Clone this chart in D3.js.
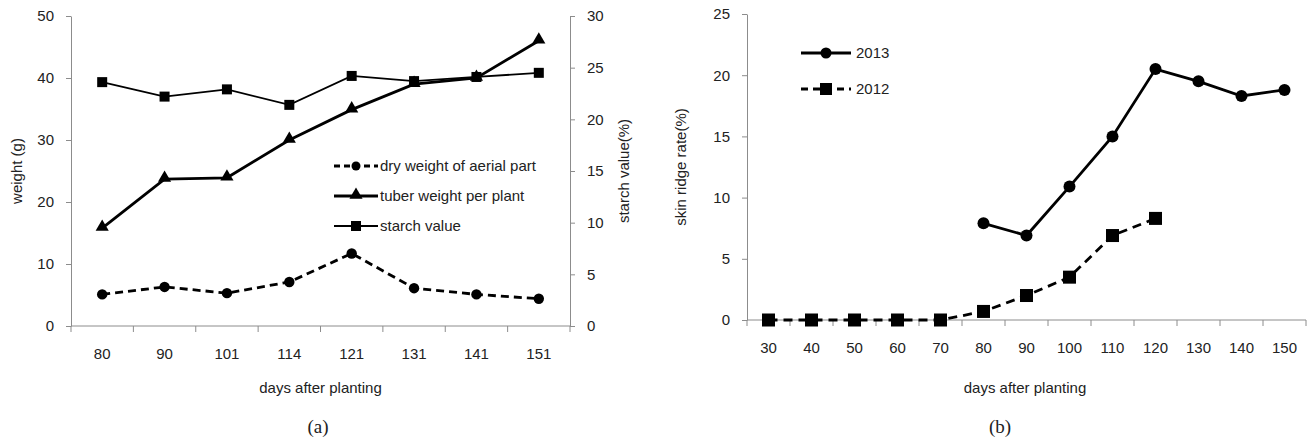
<!DOCTYPE html>
<html>
<head>
<meta charset="utf-8">
<script src="https://cdn.jsdelivr.net/npm/d3@7"></script>
<style>
  body { margin: 0; background: #fff; }
  text { font-family: "Liberation Sans", Arial, sans-serif; fill: #222; }
  .cap { font-family: "Liberation Serif", "Times New Roman", serif; }
</style>
</head>
<body>
<div id="chart"></div>
<script>
// ---- data: panel (a)
const daysA = ["80", "90", "101", "114", "121", "131", "141", "151"];
const dryWeight = [5.1, 6.3, 5.3, 7.1, 11.7, 6.1, 5.1, 4.4];
const tuberWeight = [15.8, 23.7, 23.9, 30.0, 34.9, 39.0, 40.0, 46.0];
const starchValue = [23.6, 22.2, 22.9, 21.4, 24.2, 23.7, 24.1, 24.5];
const weightTicks = [0, 10, 20, 30, 40, 50];
const starchTicks = [0, 5, 10, 15, 20, 25, 30];

// ---- data: panel (b)
const daysB = ["30", "40", "50", "60", "70", "80", "90", "100", "110", "120", "130", "140", "150"];
const rate2013 = [null, null, null, null, null, 7.9, 6.9, 10.9, 15.0, 20.5, 19.5, 18.3, 18.8];
const rate2012 = [0, 0, 0, 0, 0, 0.7, 2.0, 3.5, 6.9, 8.3, null, null, null];
const rateTicks = [0, 5, 10, 15, 20, 25];

const W = 1313, H = 441;
const axisColor = "#8c8c8c";
const fs = "15px";

const svg = d3.select("#chart").append("svg")
  .attr("width", W).attr("height", H);

// draws category axis with ticks on band edges (excel style)
function catAxis(g, x, y0, cats) {
  const [a, b] = x.range();
  g.append("line").attr("x1", a).attr("x2", b).attr("y1", y0).attr("y2", y0)
    .attr("stroke", axisColor).attr("stroke-width", 1);
  const edges = cats.map(c => x(c)).concat([b]);
  g.selectAll(".xt").data(edges).enter().append("line")
    .attr("x1", d => d).attr("x2", d => d)
    .attr("y1", y0).attr("y2", y0 + 6)
    .attr("stroke", axisColor);
  g.selectAll(".xl").data(cats).enter().append("text")
    .attr("x", d => x(d) + x.bandwidth() / 2)
    .attr("y", y0 + 33)
    .attr("text-anchor", "middle")
    .style("font-size", fs)
    .text(d => d);
}

function valAxis(g, y, x0, ticks, side) {
  const axis = side === "left" ? d3.axisLeft(y) : d3.axisRight(y);
  const ag = g.append("g").attr("transform", `translate(${x0},0)`)
    .call(axis.tickValues(ticks).tickSize(5).tickPadding(side === "left" ? 12 : 12).tickSizeOuter(0));
  ag.select(".domain").attr("stroke", axisColor);
  ag.selectAll(".tick line").attr("stroke", axisColor);
  ag.selectAll(".tick text").style("font-size", fs)
    .style("font-family", '"Liberation Sans", Arial, sans-serif')
    .attr("fill", "#222");
}

const tri = d3.symbol().type(d3.symbolTriangle).size(75);

// ================= panel (a)
const A = { l: 71, r: 570, t: 16, b: 326 };
const xa = d3.scaleBand().domain(daysA).range([A.l, A.r]);
const ya = d3.scaleLinear().domain([0, 50]).range([A.b, A.t]);
const ys = d3.scaleLinear().domain([0, 30]).range([A.b, A.t]);
const cx = d => xa(d) + xa.bandwidth() / 2;

const ga = svg.append("g");
valAxis(ga, ya, A.l, weightTicks, "left");
valAxis(ga, ys, A.r, starchTicks, "right");
catAxis(ga, xa, A.b, daysA);

const lineA = (scale, vals) => d3.line()
  .defined(d => d != null)
  .x((d, i) => cx(daysA[i])).y(d => scale(d))(vals);

// starch value
ga.append("path").attr("d", lineA(ys, starchValue))
  .attr("fill", "none").attr("stroke", "#000").attr("stroke-width", 1.8);
ga.selectAll(".sq").data(starchValue).enter().append("rect")
  .attr("x", (d, i) => cx(daysA[i]) - 5).attr("y", d => ys(d) - 5)
  .attr("width", 10).attr("height", 10).attr("fill", "#000");

// tuber weight
ga.append("path").attr("d", lineA(ya, tuberWeight))
  .attr("fill", "none").attr("stroke", "#000").attr("stroke-width", 2.8);
ga.selectAll(".tr").data(tuberWeight).enter().append("path")
  .attr("d", tri)
  .attr("transform", (d, i) => `translate(${cx(daysA[i])},${ya(d) - 1})`)
  .attr("fill", "#000");

// dry weight
ga.append("path").attr("d", lineA(ya, dryWeight))
  .attr("fill", "none").attr("stroke", "#000").attr("stroke-width", 2.8)
  .attr("stroke-dasharray", "8,5");
ga.selectAll(".ci").data(dryWeight).enter().append("circle")
  .attr("cx", (d, i) => cx(daysA[i])).attr("cy", d => ya(d))
  .attr("r", 5.2).attr("fill", "#000");

// legend (a)
const legA = [
  { name: "dry weight of aerial part", type: "circle", dash: "6,4", w: 2.8 },
  { name: "tuber weight per plant", type: "tri", dash: null, w: 2.8 },
  { name: "starch value", type: "sq", dash: null, w: 1.8 }
];
legA.forEach((d, i) => {
  const y = 166 + i * 30;
  const g = ga.append("g");
  g.append("line").attr("x1", 334).attr("x2", 378).attr("y1", y).attr("y2", y)
    .attr("stroke", "#000").attr("stroke-width", d.w)
    .attr("stroke-dasharray", d.dash);
  if (d.type === "circle") g.append("circle").attr("cx", 356).attr("cy", y).attr("r", 4.5);
  if (d.type === "tri") g.append("path").attr("d", tri).attr("transform", `translate(356,${y - 1})`);
  if (d.type === "sq") g.append("rect").attr("x", 351).attr("y", y - 5).attr("width", 10).attr("height", 10);
  g.append("text").attr("x", 380).attr("y", y + 5).style("font-size", fs).text(d.name);
});

ga.append("text").attr("x", (A.l + A.r) / 2).attr("y", 393)
  .attr("text-anchor", "middle").style("font-size", fs).text("days after planting");
ga.append("text").attr("transform", `translate(22,${(A.t + A.b) / 2}) rotate(-90)`)
  .attr("text-anchor", "middle").style("font-size", fs).text("weight (g)");
ga.append("text").attr("transform", `translate(629,${(A.t + A.b) / 2}) rotate(-90)`)
  .attr("text-anchor", "middle").style("font-size", fs).text("starch value(%)");
ga.append("text").attr("class", "cap").attr("x", 318).attr("y", 433)
  .attr("text-anchor", "middle").style("font-size", "19px").text("(a)");

// ================= panel (b)
const B = { l: 747, r: 1306, t: 14, b: 320 };
const xb = d3.scaleBand().domain(daysB).range([B.l, B.r]);
const yb = d3.scaleLinear().domain([0, 25]).range([B.b, B.t]);
const cxb = d => xb(d) + xb.bandwidth() / 2;

const gb = svg.append("g");
valAxis(gb, yb, B.l, rateTicks, "left");
catAxis(gb, xb, B.b, daysB);

const lineB = vals => d3.line()
  .defined(d => d != null)
  .x((d, i) => cxb(daysB[i])).y(d => yb(d))(vals);

gb.append("path").attr("d", lineB(rate2012))
  .attr("fill", "none").attr("stroke", "#000").attr("stroke-width", 2.8)
  .attr("stroke-dasharray", "9,6");
gb.selectAll(".sq").data(rate2012.map((v, i) => [v, i]).filter(d => d[0] != null))
  .enter().append("rect")
  .attr("x", d => cxb(daysB[d[1]]) - 6.5).attr("y", d => yb(d[0]) - 6.5)
  .attr("width", 13).attr("height", 13).attr("fill", "#000");

gb.append("path").attr("d", lineB(rate2013))
  .attr("fill", "none").attr("stroke", "#000").attr("stroke-width", 2.8);
gb.selectAll(".ci").data(rate2013.map((v, i) => [v, i]).filter(d => d[0] != null))
  .enter().append("circle")
  .attr("cx", d => cxb(daysB[d[1]])).attr("cy", d => yb(d[0]))
  .attr("r", 6).attr("fill", "#000");

// legend (b)
const legB = [
  { name: "2013", type: "circle", dash: null },
  { name: "2012", type: "sq", dash: "7,5" }
];
legB.forEach((d, i) => {
  const y = 53 + i * 36;
  const g = gb.append("g");
  g.append("line").attr("x1", 801).attr("x2", 851).attr("y1", y).attr("y2", y)
    .attr("stroke", "#000").attr("stroke-width", 2.8).attr("stroke-dasharray", d.dash);
  if (d.type === "circle") g.append("circle").attr("cx", 826).attr("cy", y).attr("r", 5.5);
  if (d.type === "sq") g.append("rect").attr("x", 820).attr("y", y - 6).attr("width", 12).attr("height", 12);
  g.append("text").attr("x", 856).attr("y", y + 5).style("font-size", fs).text(d.name);
});

gb.append("text").attr("x", 1025).attr("y", 393)
  .attr("text-anchor", "middle").style("font-size", fs).text("days after planting");
gb.append("text").attr("transform", `translate(686,${(B.t + B.b) / 2}) rotate(-90)`)
  .attr("text-anchor", "middle").style("font-size", fs).text("skin ridge rate(%)");
gb.append("text").attr("class", "cap").attr("x", 1000).attr("y", 433)
  .attr("text-anchor", "middle").style("font-size", "19px").text("(b)");
</script>
</body>
</html>
